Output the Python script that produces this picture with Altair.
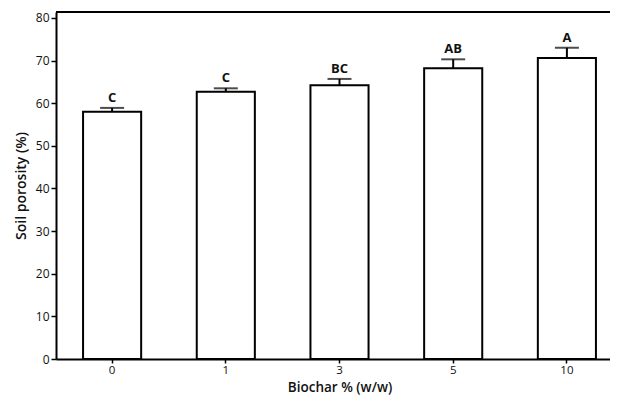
import altair as alt
import pandas as pd

categories = ["0", "1", "3", "5", "10"]
means = [58.0, 62.7, 64.2, 68.2, 70.6]
errors = [0.9, 0.8, 1.5, 2.1, 2.4]
letters = ["C", "C", "BC", "AB", "A"]

df = pd.DataFrame({"biochar": categories, "mean": means, "err": errors, "letter": letters})
df["upper"] = df["mean"] + df["err"]

FONT = "Open Sans"
INK = "#111111"

xenc = alt.X(
    "biochar:N",
    sort=categories,
    title="Biochar % (w/w)",
    scale=alt.Scale(range=[0, 567], paddingInner=0.489, paddingOuter=0.238),
    axis=alt.Axis(
        labelAngle=0, labelFontSize=11.5, labelColor=INK, labelFont=FONT, labelFontWeight=500,
        titleFontSize=13.5, titleFontWeight=600, titleFont=FONT, titleColor=INK,
        domainColor="black", domainWidth=2, tickColor="black", tickWidth=1.5,
        tickSize=4, labelPadding=1, titlePadding=5,
    ),
)
yscale = alt.Scale(domain=[0, 81.4], nice=False)
yaxis = alt.Axis(
    values=[0, 10, 20, 30, 40, 50, 60, 70, 80], grid=False,
    labelFontSize=12, labelColor=INK, labelFont=FONT, labelFontWeight=500,
    titleFontSize=14, titleFontWeight=600, titleFont=FONT, titleColor=INK,
    domainColor="black", domainWidth=2, tickColor="black", tickWidth=1.5,
    tickSize=5, labelPadding=2, titlePadding=7,
)

base = alt.Chart(df)

bars = base.mark_bar(fill="white", stroke="black", strokeWidth=2).encode(
    x=xenc,
    y=alt.Y("mean:Q", title="Soil porosity (%)", scale=yscale, axis=yaxis),
)

err = base.mark_rule(color="black", strokeWidth=2).encode(
    x=alt.X("biochar:N", sort=categories),
    y="mean:Q",
    y2="upper:Q",
)

caps = base.mark_tick(color="black", size=24, thickness=2).encode(
    x=alt.X("biochar:N", sort=categories),
    y="upper:Q",
)

labels = base.mark_text(
    baseline="bottom", dy=-3, fontWeight="bold", fontSize=13, font=FONT, color=INK
).encode(
    x=alt.X("biochar:N", sort=categories),
    y="upper:Q",
    text="letter:N",
)

topline = alt.Chart(df).mark_rule(color="black", strokeWidth=2).encode(y=alt.value(0))

chart = (
    alt.layer(bars, err, caps, labels, topline)
    .properties(
        width=554, height=347,
        autosize=alt.AutoSizeParams(type="none"),
        padding={"left": 48, "top": 4, "right": 0, "bottom": 37},
    )
    .configure_view(stroke=None)
)

chart.save("out.html", embed_options={"renderer": "svg", "actions": False})
